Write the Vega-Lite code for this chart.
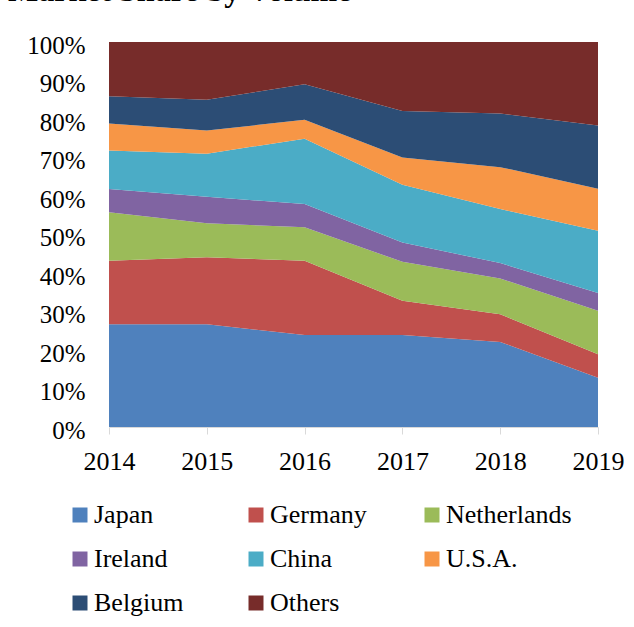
{
  "$schema": "https://vega.github.io/schema/vega-lite/v6.json",
  "autosize": "none",
  "width": 489,
  "height": 385,
  "padding": {"left": 109, "top": 42, "right": 36, "bottom": 200},
  "background": "white",
  "title": {
    "text": "Market Share by Volume",
    "anchor": "start",
    "frame": "group",
    "dx": -101,
    "offset": 25,
    "baseline": "top",
    "font": "Liberation Serif",
    "fontSize": 32,
    "fontWeight": "bold",
    "color": "black"
  },
  "config": {
    "view": {"stroke": null},
    "font": "Liberation Serif"
  },
  "data": {
    "values": [
      {"year": "2014", "country": "Japan", "rank": 1, "share": 26.7},
      {"year": "2014", "country": "Germany", "rank": 2, "share": 16.5},
      {"year": "2014", "country": "Netherlands", "rank": 3, "share": 12.6},
      {"year": "2014", "country": "Ireland", "rank": 4, "share": 6.0},
      {"year": "2014", "country": "China", "rank": 5, "share": 10.0},
      {"year": "2014", "country": "U.S.A.", "rank": 6, "share": 7.0},
      {"year": "2014", "country": "Belgium", "rank": 7, "share": 7.1},
      {"year": "2014", "country": "Others", "rank": 8, "share": 14.1},
      {"year": "2015", "country": "Japan", "rank": 1, "share": 26.7},
      {"year": "2015", "country": "Germany", "rank": 2, "share": 17.4},
      {"year": "2015", "country": "Netherlands", "rank": 3, "share": 8.8},
      {"year": "2015", "country": "Ireland", "rank": 4, "share": 6.9},
      {"year": "2015", "country": "China", "rank": 5, "share": 11.2},
      {"year": "2015", "country": "U.S.A.", "rank": 6, "share": 6.0},
      {"year": "2015", "country": "Belgium", "rank": 7, "share": 8.0},
      {"year": "2015", "country": "Others", "rank": 8, "share": 15.0},
      {"year": "2016", "country": "Japan", "rank": 1, "share": 23.9},
      {"year": "2016", "country": "Germany", "rank": 2, "share": 19.3},
      {"year": "2016", "country": "Netherlands", "rank": 3, "share": 8.7},
      {"year": "2016", "country": "Ireland", "rank": 4, "share": 6.0},
      {"year": "2016", "country": "China", "rank": 5, "share": 17.0},
      {"year": "2016", "country": "U.S.A.", "rank": 6, "share": 4.9},
      {"year": "2016", "country": "Belgium", "rank": 7, "share": 9.2},
      {"year": "2016", "country": "Others", "rank": 8, "share": 11.0},
      {"year": "2017", "country": "Japan", "rank": 1, "share": 23.9},
      {"year": "2017", "country": "Germany", "rank": 2, "share": 8.9},
      {"year": "2017", "country": "Netherlands", "rank": 3, "share": 10.1},
      {"year": "2017", "country": "Ireland", "rank": 4, "share": 5.0},
      {"year": "2017", "country": "China", "rank": 5, "share": 15.0},
      {"year": "2017", "country": "U.S.A.", "rank": 6, "share": 7.1},
      {"year": "2017", "country": "Belgium", "rank": 7, "share": 12.1},
      {"year": "2017", "country": "Others", "rank": 8, "share": 17.9},
      {"year": "2018", "country": "Japan", "rank": 1, "share": 22.1},
      {"year": "2018", "country": "Germany", "rank": 2, "share": 7.2},
      {"year": "2018", "country": "Netherlands", "rank": 3, "share": 9.3},
      {"year": "2018", "country": "Ireland", "rank": 4, "share": 4.0},
      {"year": "2018", "country": "China", "rank": 5, "share": 14.0},
      {"year": "2018", "country": "U.S.A.", "rank": 6, "share": 10.9},
      {"year": "2018", "country": "Belgium", "rank": 7, "share": 13.9},
      {"year": "2018", "country": "Others", "rank": 8, "share": 18.6},
      {"year": "2019", "country": "Japan", "rank": 1, "share": 12.8},
      {"year": "2019", "country": "Germany", "rank": 2, "share": 6.1},
      {"year": "2019", "country": "Netherlands", "rank": 3, "share": 11.3},
      {"year": "2019", "country": "Ireland", "rank": 4, "share": 4.6},
      {"year": "2019", "country": "China", "rank": 5, "share": 16.2},
      {"year": "2019", "country": "U.S.A.", "rank": 6, "share": 10.9},
      {"year": "2019", "country": "Belgium", "rank": 7, "share": 16.4},
      {"year": "2019", "country": "Others", "rank": 8, "share": 21.7}
    ]
  },
  "mark": {"type": "area", "opacity": 1},
  "encoding": {
    "x": {
      "field": "year",
      "type": "ordinal",
      "scale": {"type": "point", "padding": 0},
      "axis": {
        "title": null,
        "labelAngle": 0,
        "labelFont": "Liberation Serif",
        "labelFontSize": 26,
        "labelColor": "black",
        "labelPadding": 14,
        "tickSize": 7,
        "tickColor": "#d9d9d9",
        "domainColor": "#d9d9d9",
        "grid": false
      }
    },
    "y": {
      "field": "share",
      "type": "quantitative",
      "stack": "normalize",
      "scale": {"domain": [0, 1]},
      "axis": {
        "title": null,
        "format": ".0%",
        "values": [0, 0.1, 0.2, 0.3, 0.4, 0.5, 0.6, 0.7, 0.8, 0.9, 1],
        "labelFont": "Liberation Serif",
        "labelFontSize": 25,
        "labelColor": "black",
        "labelPadding": 24,
        "labelOffset": 3,
        "ticks": false,
        "domain": false,
        "grid": false
      }
    },
    "color": {
      "field": "country",
      "type": "nominal",
      "sort": ["Japan", "Germany", "Netherlands", "Ireland", "China", "U.S.A.", "Belgium", "Others"],
      "scale": {
        "domain": ["Japan", "Germany", "Netherlands", "Ireland", "China", "U.S.A.", "Belgium", "Others"],
        "range": ["#4F81BD", "#C0504D", "#9BBB59", "#8064A2", "#4BACC6", "#F79646", "#2C4D75", "#772C2A"]
      },
      "legend": {
        "title": null,
        "orient": "none",
        "legendX": -42,
        "legendY": 460,
        "direction": "horizontal",
        "columns": 3,
        "gridAlign": "all",
        "columnPadding": 23,
        "rowPadding": 18,
        "padding": 0,
        "symbolType": "square",
        "symbolSize": 225,
        "symbolStrokeWidth": 0,
        "labelFont": "Liberation Serif",
        "labelFontSize": 26,
        "labelColor": "black",
        "labelOffset": 1,
        "labelLimit": 300
      }
    },
    "order": {"field": "rank", "type": "quantitative"}
  }
}
